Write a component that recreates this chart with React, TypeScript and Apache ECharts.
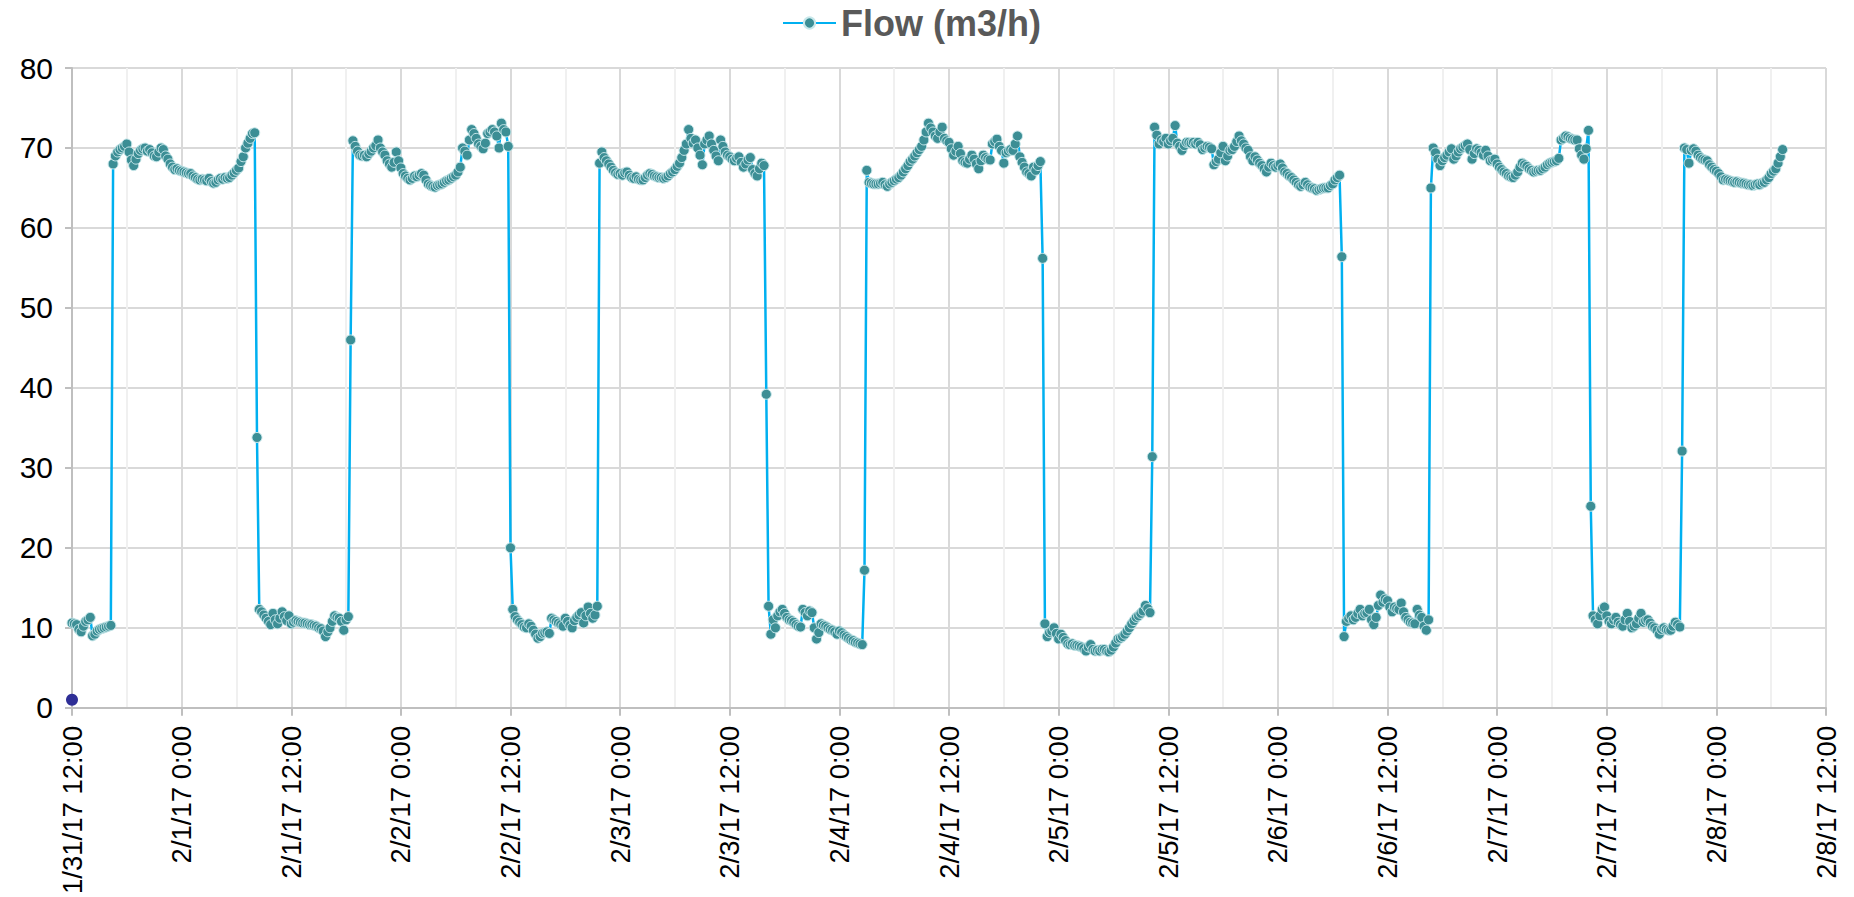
import React, { useEffect, useRef } from 'react';
import * as echarts from 'echarts';

// Time origin of the x axis (hours are counted from here)
const START_TIME = '2017-01-31 12:00';
const X_MAX_HOURS = 192; // 2/8/17 12:00
const X_TICK_HOURS = 12;
const SAMPLE_MINUTES = 15;

const SERIES_NAME = 'Flow (m3/h)';

// Flow readings, one run per segment, sampled every 15 minutes from its start time
const segmentStarts = [
  '2017-01-31 12:00',
  '2017-01-31 16:30',
  '2017-02-01 08:30',
  '2017-02-01 18:45',
  '2017-02-02 12:15',
  '2017-02-02 21:45',
  '2017-02-03 16:15',
  '2017-02-04 03:00',
  '2017-02-04 22:30',
  '2017-02-05 10:30',
  '2017-02-06 07:15',
  '2017-02-06 17:00',
  '2017-02-07 10:30',
  '2017-02-07 20:30',
];

const seg01 = [10.6, 10.5, 10.4, 9.8, 9.5, 10.2, 10.8, 11.0, 11.3, 9.0, 9.2, 9.6, 9.8, 9.9, 10.0, 10.1, 10.2, 10.3];
const seg02 = [
  68.0, 69.0, 69.5, 69.8, 70.0, 70.2, 70.5, 69.5, 68.5, 67.8,
  68.6, 69.3, 69.7, 69.9, 70.0, 69.6, 69.8, 69.4, 69.0, 68.9,
  69.5, 70.0, 69.8, 69.0, 68.6, 68.0, 67.6, 67.3, 67.4, 67.2,
  67.1, 67.0, 66.9, 66.8, 66.8, 66.5, 66.3, 66.1, 66.0, 66.1,
  66.0, 65.9, 66.2, 65.8, 65.6, 65.7, 66.0, 66.2, 66.1, 66.3,
  66.2, 66.3, 66.6, 66.9, 67.2, 67.5, 68.3, 68.9, 70.0, 70.6,
  71.2, 71.8, 71.9, 33.8,
];
const seg03 = [
  12.3, 12.0, 11.6, 11.2, 10.8, 10.4, 11.8, 11.0, 10.5, 11.2,
  12.0, 11.4, 10.9, 11.5, 10.5, 10.7, 10.9, 10.8, 10.7, 10.6,
  10.6, 10.5, 10.4, 10.4, 10.3, 10.2, 10.0, 9.9, 9.6, 8.9,
  9.5, 10.0, 10.8, 11.5, 11.3, 11.2, 10.8, 9.7, 11.0, 11.4,
  46.0,
];
const seg04 = [
  70.9, 70.2, 69.6, 69.1, 69.0, 69.1, 68.9, 69.3, 69.6, 70.0,
  70.3, 71.0, 70.0, 69.5, 69.1, 68.4, 68.0, 67.6, 68.2, 69.5,
  68.4, 67.5, 66.8, 66.5, 66.2, 66.0, 66.2, 66.5, 66.4, 66.6,
  66.8, 66.6, 66.0, 65.5, 65.3, 65.2, 65.1, 65.3, 65.4, 65.5,
  65.7, 65.9, 66.0, 66.2, 66.4, 66.6, 67.0, 67.6, 70.0, 69.6,
  69.1, 71.0, 72.3, 71.8, 71.2, 70.5, 70.2, 69.9, 70.6, 71.8,
  72.0, 72.3, 72.0, 71.5, 70.0, 73.1, 72.3, 72.0, 70.2, 20.0,
];
const seg05 = [
  12.3, 11.4, 11.0, 10.7, 10.4, 10.1, 10.0, 10.5, 10.2, 9.7,
  9.2, 8.7, 8.9, 9.3, 9.4, 9.5, 9.3, 11.2, 11.0, 10.8,
  10.6, 10.4, 10.2, 11.2, 10.8, 10.3, 10.0, 10.9, 11.3, 11.6,
  11.9, 10.6, 11.5, 12.6, 11.8, 11.2, 11.6, 12.7,
];
const seg06 = [
  68.1, 69.5, 68.8, 68.4, 68.0, 67.6, 67.2, 66.9, 66.7, 66.8,
  66.6, 66.9, 67.0, 66.6, 66.3, 66.2, 66.4, 66.1, 66.0, 66.0,
  66.3, 66.6, 66.8, 66.7, 66.5, 66.4, 66.3, 66.3, 66.2, 66.3,
  66.5, 66.8, 67.0, 67.3, 67.7, 68.1, 68.8, 69.7, 70.5, 72.3,
  71.2, 70.6, 71.0, 70.0, 69.1, 67.9, 70.5, 71.0, 71.5, 70.5,
  69.7, 69.0, 68.4, 71.0, 70.2, 69.5, 69.1, 68.9, 68.6, 68.4,
  68.7, 68.9, 68.2, 67.6, 68.0, 68.5, 68.8, 67.3, 66.8, 66.5,
  67.4, 68.1, 67.8, 39.2,
];
const seg07 = [
  12.7, 9.2, 11.0, 10.0, 11.5, 12.0, 12.3, 11.8, 11.3, 11.0,
  10.9, 10.7, 10.4, 10.2, 10.1, 12.3, 11.9, 11.5, 12.1, 11.9,
  10.0, 8.6, 9.4, 10.5, 10.3, 10.2, 10.0, 9.8, 9.7, 9.5,
  9.2, 9.6, 9.4, 9.1, 8.9, 8.7, 8.5, 8.4, 8.2, 8.1,
  8.0, 7.9, 17.2,
];
const seg08 = [
  67.2, 65.7, 65.6, 65.5, 65.5, 65.5, 65.6, 65.7, 65.4, 65.2,
  65.5, 65.7, 65.9, 66.1, 66.3, 66.6, 67.0, 67.4, 67.8, 68.3,
  68.6, 69.0, 69.4, 69.8, 70.2, 71.0, 72.0, 73.1, 72.5, 72.0,
  71.5, 71.2, 72.0, 72.6, 71.2, 70.9, 70.7, 69.9, 69.1, 69.6,
  70.2, 69.3, 68.4, 68.2, 68.1, 68.6, 69.1, 68.6, 68.0, 67.4,
  68.4, 69.1, 68.8, 68.6, 68.5, 70.5, 70.8, 71.1, 70.2, 69.7,
  68.1, 69.4, 69.6, 69.8, 69.7, 70.5, 71.5, 68.9, 68.2, 67.6,
  67.0, 66.8, 66.5, 67.6, 67.2, 67.8, 68.3, 56.2,
];
const seg09 = [
  10.5, 8.9, 9.4, 9.6, 10.0, 9.3, 8.6, 9.2, 8.8, 8.4,
  8.0, 7.9, 8.0, 7.8, 7.8, 7.7, 7.6, 7.4, 7.1, 7.6,
  7.9, 7.3, 7.1, 7.2, 7.1, 7.3, 7.3, 7.1, 7.0, 7.2,
  7.6, 8.1, 8.6, 8.7, 8.9, 9.2, 9.6, 10.0, 10.5, 10.9,
  11.3, 11.5, 11.8, 12.1, 12.8, 12.4, 11.9, 31.4,
];
const seg10 = [
  72.6, 71.6, 70.5, 71.0, 70.8, 71.2, 70.5, 70.9, 71.2, 72.8,
  70.6, 70.2, 69.7, 70.3, 70.7, 70.7, 70.6, 70.7, 70.5, 70.7,
  70.4, 69.8, 70.0, 70.2, 70.1, 69.9, 67.9, 68.3, 68.6, 69.4,
  70.2, 68.4, 69.0, 69.7, 69.8, 70.2, 70.8, 71.5, 70.9, 70.5,
  70.0, 69.7, 68.9, 68.4, 68.9, 68.5, 68.1, 67.8, 67.4, 67.0,
  67.6, 68.1, 67.8, 67.6, 67.8, 68.0, 67.5, 67.0, 66.8, 66.5,
  66.3, 66.0, 65.7, 65.4, 65.2, 65.4, 65.7, 65.4, 65.1, 65.0,
  64.9, 64.7, 64.8, 64.9, 65.0, 65.0, 65.0, 65.3, 65.5, 66.0,
  66.3, 66.6, 56.4,
];
const seg11 = [
  8.9, 10.8, 11.2, 11.5, 11.0, 11.3, 11.8, 12.3, 11.5, 11.8,
  11.9, 12.3, 11.0, 10.4, 11.3, 12.8, 14.1, 13.2, 13.6, 13.4,
  12.6, 12.0, 12.6, 12.4, 12.3, 13.1, 12.0, 11.3, 11.0, 10.7,
  10.6, 10.5, 12.3, 11.6, 11.3, 10.2, 9.7, 11.0, 65.0,
];
const seg12 = [
  70.0, 69.4, 68.6, 67.8, 68.4, 68.8, 69.1, 69.5, 69.9, 68.6,
  69.0, 69.5, 69.9, 70.1, 70.3, 70.5, 69.8, 68.6, 69.3, 69.9,
  69.7, 69.4, 69.1, 69.7, 69.0, 68.4, 68.5, 68.6, 68.0, 67.6,
  67.3, 67.0, 66.8, 66.5, 66.4, 66.3, 66.6, 67.0, 67.6, 68.1,
  67.9, 67.7, 67.4, 67.2, 67.0, 67.1, 67.2, 67.2, 67.4, 67.6,
  67.9, 68.1, 68.2, 68.3, 68.4, 68.7, 71.0, 71.2, 71.5, 71.4,
  71.2, 71.1, 71.0, 71.0, 69.9, 69.1, 68.6, 69.9, 72.2, 25.2,
];
const seg13 = [
  11.5, 11.0, 10.5, 11.5, 12.3, 12.6, 11.5, 10.8, 10.5, 11.0,
  11.3, 10.7, 10.4, 10.2, 11.0, 11.8, 10.8, 10.0, 10.2, 10.5,
  11.2, 11.8, 10.7, 10.9, 11.0, 10.6, 10.2, 10.0, 9.7, 9.2,
  9.8, 10.0, 9.8, 9.7, 9.7, 10.2, 10.7, 10.4, 10.1, 32.1,
];
const seg14 = [
  70.0, 69.8, 68.1, 69.7, 69.9, 69.6, 69.1, 68.8, 68.6, 68.5,
  68.4, 67.9, 67.6, 67.3, 67.1, 66.8, 66.4, 66.0, 66.1, 66.0,
  65.9, 65.8, 65.7, 65.8, 65.7, 65.6, 65.6, 65.5, 65.4, 65.4,
  65.3, 65.4, 65.5, 65.4, 65.6, 65.7, 66.0, 66.3, 66.8, 67.1,
  67.4, 68.1, 68.9, 69.8,
];
const segments = [seg01, seg02, seg03, seg04, seg05, seg06, seg07, seg08, seg09, seg10, seg11, seg12, seg13, seg14];

// Separate highlighted reading at the very start
const startPointTime = '2017-01-31 12:00';
const startPointValue = 1.0;

function parseTime(s: string): number {
  const [d, t] = s.split(' ');
  const [Y, M, D] = d.split('-').map(Number);
  const [h, mi] = t.split(':').map(Number);
  return Date.UTC(Y, M - 1, D, h, mi);
}

const ORIGIN = parseTime(START_TIME);
const toHours = (s: string) => (parseTime(s) - ORIGIN) / 3600000;

function buildFlowData(): [number, number][] {
  const out: [number, number][] = [];
  segments.forEach((vals, si) => {
    const h0 = toHours(segmentStarts[si]);
    vals.forEach((v, k) => {
      out.push([h0 + (k * SAMPLE_MINUTES) / 60, v]);
    });
  });
  return out;
}

function formatHours(v: number): string {
  const d = new Date(ORIGIN + v * 3600000);
  const m = d.getUTCMonth() + 1;
  const day = d.getUTCDate();
  const yy = String(d.getUTCFullYear()).slice(2);
  const hh = d.getUTCHours();
  const mm = String(d.getUTCMinutes()).padStart(2, '0');
  return `${m}/${day}/${yy} ${hh}:${mm}`;
}

const FONT = '"Liberation Sans", Arial, Helvetica, sans-serif';

export default function App() {
  const ref = useRef<HTMLDivElement>(null);

  useEffect(() => {
    if (!ref.current) return;
    const chart = echarts.init(ref.current, undefined, { renderer: 'svg' });
    const option = {
      animation: false,
      backgroundColor: '#ffffff',
      textStyle: { fontFamily: FONT },
      legend: {
        data: [SERIES_NAME],
        left: 777,
        top: 0,
        itemWidth: 53,
        itemHeight: 14,
        textStyle: { fontSize: 36, fontWeight: 'bold', color: '#595959', fontFamily: FONT },
      },
      grid: { left: 72, right: 28, top: 68, bottom: 186, containLabel: false },
      xAxis: {
        type: 'value',
        min: 0,
        max: X_MAX_HOURS,
        interval: X_TICK_HOURS,
        axisLine: { show: true, lineStyle: { color: '#BFBFBF', width: 2 } },
        axisTick: { show: true, length: 8, lineStyle: { color: '#BFBFBF', width: 2 } },
        axisLabel: {
          rotate: 90,
          fontSize: 27.5,
          color: '#000000',
          margin: 18,
          fontFamily: FONT,
          formatter: (v: number) => formatHours(v),
        },
        splitLine: { show: true, lineStyle: { color: '#D9D9D9', width: 2 } },
        minorTick: { show: false, splitNumber: 2 },
        minorSplitLine: { show: true, lineStyle: { color: '#F0F0F0', width: 2 } },
      },
      yAxis: {
        type: 'value',
        min: 0,
        max: 80,
        interval: 10,
        axisLine: { show: true, lineStyle: { color: '#BFBFBF', width: 2 } },
        axisTick: { show: true, length: 7, lineStyle: { color: '#BFBFBF', width: 2 } },
        axisLabel: { fontSize: 30, color: '#000000', margin: 19, fontFamily: FONT },
        splitLine: { show: true, lineStyle: { color: '#D9D9D9', width: 2 } },
      },
      series: [
        {
          name: SERIES_NAME,
          type: 'line',
          data: buildFlowData(),
          symbol: 'circle',
          symbolSize: 10,
          showSymbol: true,
          lineStyle: { color: '#00B0F0', width: 2.5 },
          itemStyle: { color: '#3C8E95', borderColor: '#C8E8EB', borderWidth: 1 },
          z: 3,
        },
        {
          name: 'Start',
          type: 'scatter',
          data: [[toHours(startPointTime), startPointValue]],
          symbol: 'circle',
          symbolSize: 12,
          itemStyle: { color: '#2E2E96', opacity: 1 },
          z: 4,
        },
      ],
    };
    chart.setOption(option as any);
    return () => chart.dispose();
  }, []);

  return (
    <div
      ref={ref}
      style={{ position: 'fixed', left: 0, top: 0, width: 1854, height: 897, background: '#fff' }}
    />
  );
}
